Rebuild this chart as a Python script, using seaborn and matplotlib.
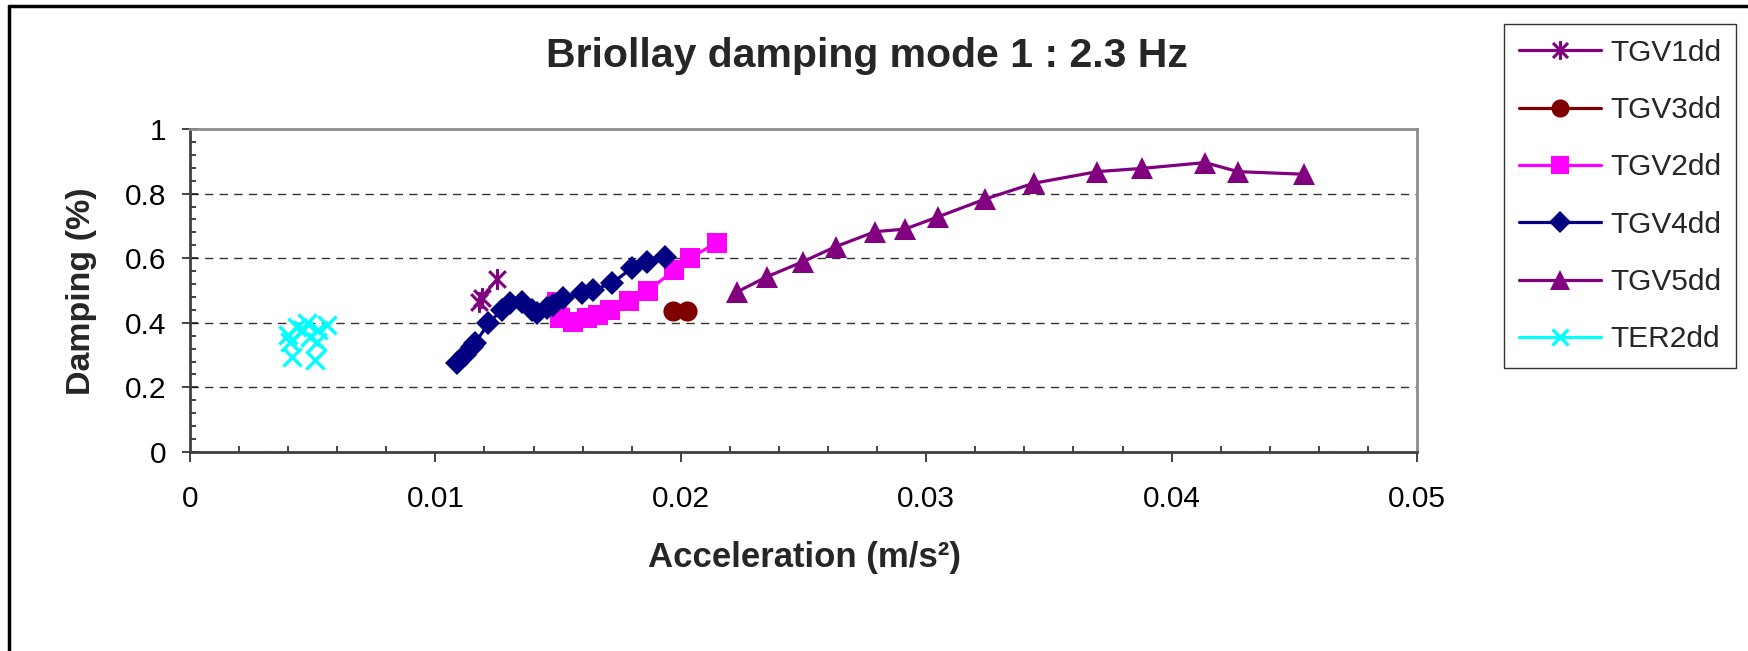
import numpy as np
import pandas as pd
import matplotlib
matplotlib.use("Agg")
import matplotlib.pyplot as plt
from matplotlib.lines import Line2D
from matplotlib.path import Path
from matplotlib.ticker import MultipleLocator, FixedLocator, FixedFormatter
import seaborn as sns

# ---------------- data ----------------
series_names = ["TGV1dd", "TGV3dd", "TGV2dd", "TGV4dd", "TGV5dd", "TER2dd"]

tgv1_x = [0.01178, 0.01188, 0.01252]
tgv1_y = [0.465, 0.478, 0.535]

tgv3_x = [0.01970, 0.02024]
tgv3_y = [0.4365, 0.4365]

tgv2_x = [0.01494, 0.01508, 0.01562, 0.01616, 0.01664, 0.01711, 0.01790,
          0.01865, 0.01974, 0.02037, 0.02146]
tgv2_y = [0.465, 0.414, 0.403, 0.414, 0.424, 0.440, 0.468,
          0.499, 0.563, 0.600, 0.648]

tgv4_x = [0.01090, 0.01120, 0.01150, 0.01162, 0.01216, 0.01270, 0.01304,
          0.01352, 0.01392, 0.01413, 0.01454, 0.01481, 0.01521, 0.01596,
          0.01643, 0.01718, 0.01800, 0.01861, 0.01936]
tgv4_y = [0.277, 0.300, 0.326, 0.337, 0.398, 0.440, 0.460,
          0.465, 0.440, 0.429, 0.445, 0.455, 0.476, 0.491,
          0.502, 0.522, 0.569, 0.589, 0.605]

tgv5_x = [0.02230, 0.02352, 0.02497, 0.02632, 0.02791, 0.02913, 0.03048,
          0.03240, 0.03438, 0.03697, 0.03879, 0.04136, 0.04271, 0.04538]
tgv5_y = [0.496, 0.543, 0.589, 0.636, 0.682, 0.690, 0.728,
          0.783, 0.832, 0.868, 0.878, 0.896, 0.868, 0.860]

ter2_x = [0.00414, 0.00509, 0.00462, 0.00557, 0.00401, 0.00435, 0.00489,
          0.00516, 0.00408, 0.00476, 0.00523]
ter2_y = [0.295, 0.285, 0.378, 0.393, 0.362, 0.388, 0.357,
          0.341, 0.341, 0.398, 0.378]

x_ticks = [0, 0.01, 0.02, 0.03, 0.04, 0.05]
x_tick_labels = ["0", "0.01", "0.02", "0.03", "0.04", "0.05"]
y_ticks = [0, 0.2, 0.4, 0.6, 0.8, 1.0]
y_tick_labels = ["0", "0.2", "0.4", "0.6", "0.8", "1"]

title = "Briollay damping mode 1 : 2.3 Hz"
x_label = "Acceleration (m/s²)"
y_label = "Damping (%)"

# ---------------- style ----------------
sns.set_style("white")
plt.rcParams["font.family"] = ["Liberation Sans", "DejaVu Sans"]

W, H = 1749, 651
fig = plt.figure(figsize=(W / 100, H / 100), dpi=100)
ax = fig.add_axes([190 / W, 1 - 452 / H, 1227 / W, 323 / H])

PURPLE = "#800080"
DARKRED = "#800000"
MAGENTA = "#FF00FF"
NAVY = "#000080"
CYAN = "#00FFFF"

star = Path([(0, -1), (0, 1), (-0.8, -0.8), (0.8, 0.8), (-0.8, 0.8), (0.8, -0.8)],
            [Path.MOVETO, Path.LINETO, Path.MOVETO, Path.LINETO, Path.MOVETO, Path.LINETO])

styles = {
    "TGV1dd": dict(color=PURPLE, marker=star, ms=15, mew=2.2, mfc="none", mec=PURPLE),
    "TGV3dd": dict(color=DARKRED, marker="o", ms=14.5, mew=0, mfc=DARKRED, mec=DARKRED),
    "TGV2dd": dict(color=MAGENTA, marker="s", ms=14, mew=0, mfc=MAGENTA, mec=MAGENTA),
    "TGV4dd": dict(color=NAVY, marker="D", ms=12.5, mew=0, mfc=NAVY, mec=NAVY),
    "TGV5dd": dict(color=PURPLE, marker="^", ms=15.5, mew=0, mfc=PURPLE, mec=PURPLE),
    "TER2dd": dict(color=CYAN, marker="x", ms=13, mew=2.4, mfc=CYAN, mec=CYAN),
}

data = {
    "TGV1dd": (tgv1_x, tgv1_y),
    "TGV3dd": (tgv3_x, tgv3_y),
    "TGV2dd": (tgv2_x, tgv2_y),
    "TGV4dd": (tgv4_x, tgv4_y),
    "TGV5dd": (tgv5_x, tgv5_y),
}

ax.set_axisbelow(True)

draw_order = ["TGV5dd", "TGV3dd", "TGV2dd", "TGV4dd", "TGV1dd"]
for name in draw_order:
    xs, ys = data[name]
    df = pd.DataFrame({"x": xs, "y": ys})
    st = styles[name]
    sns.lineplot(data=df, x="x", y="y", ax=ax, sort=False, estimator=None,
                 color=st["color"], lw=2.3, marker=st["marker"], ms=st["ms"],
                 mew=st["mew"], mfc=st["mfc"], mec=st["mec"], legend=False,
                 zorder=3)

df_ter = pd.DataFrame({"x": ter2_x, "y": ter2_y})
sns.scatterplot(data=df_ter, x="x", y="y", ax=ax, marker="x", color=CYAN,
                s=styles["TER2dd"]["ms"] ** 2, linewidth=2.4, legend=False, zorder=3)

# ---------------- axes ----------------
ax.set_xlim(0, 0.05)
ax.set_ylim(0, 1)
ax.xaxis.set_major_locator(FixedLocator(x_ticks))
ax.xaxis.set_major_formatter(FixedFormatter(x_tick_labels))
ax.yaxis.set_major_locator(FixedLocator(y_ticks))
ax.yaxis.set_major_formatter(FixedFormatter(y_tick_labels))
ax.xaxis.set_minor_locator(MultipleLocator(0.002))
ax.yaxis.set_minor_locator(MultipleLocator(0.04))

ax.tick_params(axis="x", which="major", direction="out", length=7, width=1.2,
               color="#222222", pad=17, labelsize=21.5, labelcolor="black")
ax.tick_params(axis="x", which="minor", direction="in", length=4.5, width=1.2,
               color="#222222")
ax.tick_params(axis="y", which="major", direction="inout", length=11.5, width=1.2,
               color="#222222", pad=11, labelsize=21.5, labelcolor="black")
ax.tick_params(axis="y", which="minor", direction="in", length=4.5, width=1.2,
               color="#222222")
ax.tick_params(which="both", bottom=True, left=True, top=False, right=False)

ax.set_xlabel("")
ax.set_ylabel("")

for side in ["left", "bottom"]:
    ax.spines[side].set_color("#404040")
    ax.spines[side].set_linewidth(2.0)
for side in ["top", "right"]:
    ax.spines[side].set_color("#8c8c8c")
    ax.spines[side].set_linewidth(2.0)

ax.yaxis.grid(True, which="major", color="#333333", linestyle=(0, (6, 4.5)), linewidth=1.0)
ax.xaxis.grid(False)

# ---------------- texts ----------------
fig.text(867 / W, 1 - 56 / H, title, ha="center", va="center",
         fontsize=29.5, fontweight="bold")
fig.text(805 / W, 1 - 558 / H, x_label, ha="center", va="center",
         fontsize=25, fontweight="bold")
fig.text(82 / W, 1 - 291 / H, y_label, ha="center", va="center",
         fontsize=24.5, fontweight="bold", rotation=90)

# ---------------- legend ----------------
handles = []
for name in series_names:
    st = styles[name]
    handles.append(Line2D([0], [0], color=st["color"], lw=2.3, marker=st["marker"],
                          ms=st["ms"] * 0.9, mew=st["mew"], mfc=st["mfc"], mec=st["mec"]))
leg = fig.legend(handles, series_names, loc="upper left",
                 bbox_to_anchor=(1504 / W, 1 - 24 / H), bbox_transform=fig.transFigure,
                 fontsize=21.5, frameon=True, fancybox=False, shadow=False,
                 borderpad=0.5, labelspacing=0.98, handlelength=2.75,
                 handletextpad=0.3, borderaxespad=0)
leg.get_frame().set_edgecolor("black")
leg.get_frame().set_linewidth(1.0)

# ---------------- outer chart border ----------------
fig.add_artist(Line2D([9 / W, 1], [1 - 5.5 / H, 1 - 5.5 / H], transform=fig.transFigure,
                      color="black", lw=2.5))
fig.add_artist(Line2D([9 / W, 9 / W], [0, 1 - 5.5 / H], transform=fig.transFigure,
                      color="black", lw=2.5))

fig.savefig("out.png", dpi=100, facecolor="white")
